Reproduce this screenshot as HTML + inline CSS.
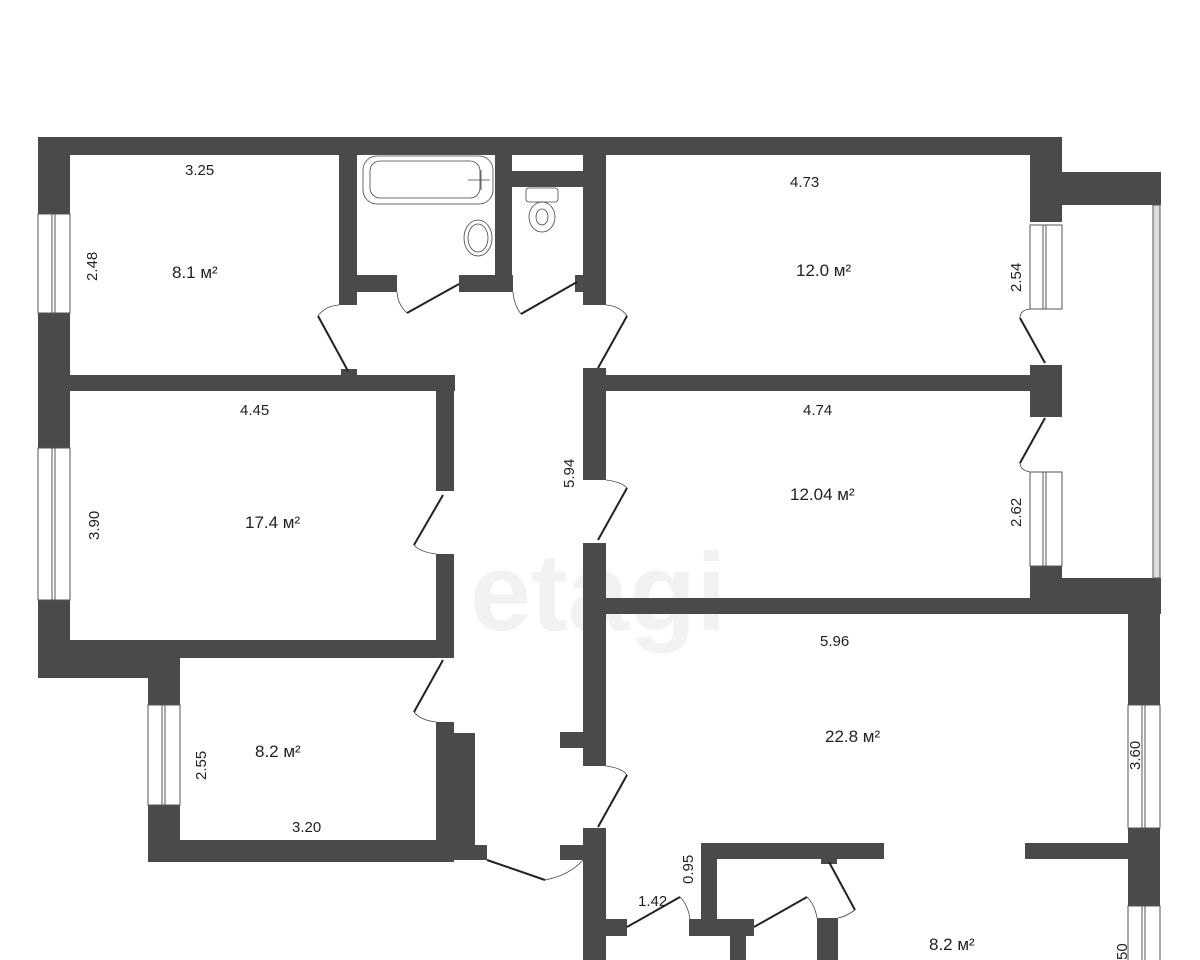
<!DOCTYPE html>
<html><head><meta charset="utf-8"><style>
html,body{margin:0;padding:0;background:#fff;}
svg{display:block;}
text{font-family:"Liberation Sans Narrow","Liberation Sans",sans-serif;fill:#222;}
</style></head><body>
<svg width="1200" height="960" viewBox="0 0 1200 960" xmlns="http://www.w3.org/2000/svg">
<text x="470" y="630" font-size="110" fill="#f2f2f2" style="fill:#f2f2f2;font-weight:bold">etagi</text>
<g fill="#4a4a4a">
<rect x="38" y="137" width="1024" height="18"/>
<rect x="38" y="137" width="32" height="77"/>
<rect x="38" y="313" width="32" height="135"/>
<rect x="38" y="600" width="32" height="78"/>
<rect x="38" y="640" width="112" height="38"/>
<rect x="339" y="137" width="18" height="168"/>
<rect x="357" y="275" width="40" height="17"/>
<rect x="459" y="275" width="54" height="17"/>
<rect x="495" y="137" width="17" height="155"/>
<rect x="512" y="171" width="72" height="16"/>
<rect x="575" y="275" width="10" height="17"/>
<rect x="583" y="137" width="23" height="168"/>
<rect x="583" y="368" width="23" height="112"/>
<rect x="583" y="543" width="23" height="223"/>
<rect x="560" y="732" width="23" height="16"/>
<rect x="583" y="828" width="23" height="132"/>
<rect x="560" y="845" width="23" height="15"/>
<rect x="70" y="375" width="385" height="16"/>
<rect x="341" y="369" width="16" height="8"/>
<rect x="436" y="375" width="18" height="116"/>
<rect x="436" y="554" width="18" height="104"/>
<rect x="70" y="640" width="384" height="18"/>
<rect x="148" y="640" width="32" height="65"/>
<rect x="148" y="805" width="32" height="57"/>
<rect x="148" y="840" width="297" height="22"/>
<rect x="436" y="722" width="18" height="140"/>
<rect x="454" y="733" width="21" height="127"/>
<rect x="470" y="845" width="17" height="15"/>
<rect x="606" y="375" width="424" height="16"/>
<rect x="1030" y="137" width="32" height="85"/>
<rect x="1030" y="365" width="32" height="52"/>
<rect x="1030" y="566" width="32" height="44"/>
<rect x="1062" y="172" width="99" height="33"/>
<rect x="1062" y="578" width="99" height="32"/>
<rect x="606" y="598" width="555" height="16"/>
<rect x="1128" y="598" width="32" height="107"/>
<rect x="1128" y="828" width="32" height="78"/>
<rect x="701" y="843" width="183" height="16"/>
<rect x="1025" y="843" width="105" height="16"/>
<rect x="701" y="843" width="16" height="80"/>
<rect x="821" y="859" width="16" height="5"/>
<rect x="606" y="919" width="21" height="17"/>
<rect x="689" y="919" width="65" height="17"/>
<rect x="730" y="936" width="16" height="24"/>
<rect x="817" y="918" width="21" height="42"/>
</g>
<g fill="#fff" stroke="#555" stroke-width="1">
<rect x="38" y="214" width="32" height="99"/><line x1="52" y1="214" x2="52" y2="313"/><line x1="55" y1="214" x2="55" y2="313"/>
<rect x="38" y="448" width="32" height="152"/><line x1="52" y1="448" x2="52" y2="600"/><line x1="55" y1="448" x2="55" y2="600"/>
<rect x="148" y="705" width="32" height="100"/><line x1="162" y1="705" x2="162" y2="805"/><line x1="165" y1="705" x2="165" y2="805"/>
<rect x="1030" y="225" width="32" height="84"/><line x1="1043" y1="225" x2="1043" y2="309"/><line x1="1046" y1="225" x2="1046" y2="309"/>
<rect x="1030" y="472" width="32" height="94"/><line x1="1043" y1="472" x2="1043" y2="566"/><line x1="1046" y1="472" x2="1046" y2="566"/>
<rect x="1128" y="705" width="32" height="123"/><line x1="1142" y1="705" x2="1142" y2="828"/><line x1="1145" y1="705" x2="1145" y2="828"/>
<rect x="1128" y="906" width="32" height="60"/><line x1="1142" y1="906" x2="1142" y2="960"/><line x1="1145" y1="906" x2="1145" y2="960"/>
<rect x="1153" y="205" width="7" height="373" fill="#ddd"/>
</g>
<g stroke="#222" stroke-width="2" fill="none">
<line x1="407" y1="313" x2="459" y2="284"/>
<line x1="521" y1="314" x2="577" y2="282"/>
<line x1="318" y1="316" x2="348" y2="371"/>
<line x1="627" y1="316" x2="598" y2="368"/>
<line x1="1020" y1="318" x2="1045" y2="363"/>
<line x1="1045" y1="418" x2="1020" y2="463"/>
<line x1="443" y1="495" x2="414" y2="545"/>
<line x1="627" y1="488" x2="598" y2="540"/>
<line x1="443" y1="660" x2="414" y2="712"/>
<line x1="627" y1="775" x2="598" y2="827"/>
<line x1="487" y1="860" x2="545" y2="880"/>
<line x1="627" y1="927" x2="680" y2="897"/>
<line x1="754" y1="927" x2="807" y2="897"/>
<line x1="829" y1="862" x2="855" y2="910"/>
</g>
<g stroke="#444" stroke-width="0.8" fill="none">
<path d="M397 292 Q398 305 407 313"/>
<path d="M513 292 Q514 305 521 314"/>
<path d="M339 305 Q325 306 318 316"/>
<path d="M606 305 Q620 306 627 316"/>
<path d="M1030 309 Q1020 310 1020 318"/>
<path d="M1030 472 Q1020 470 1020 463"/>
<path d="M436 554 Q420 552 414 545"/>
<path d="M606 480 Q622 482 627 488"/>
<path d="M436 722 Q420 720 414 712"/>
<path d="M606 766 Q622 768 627 775"/>
<path d="M583 860 Q570 875 545 880"/>
<path d="M680 897 Q688 905 690 919"/>
<path d="M807 897 Q815 905 817 918"/>
<path d="M855 910 Q845 917 838 918"/>
<rect x="363" y="156" width="130" height="48" rx="14"/>
<rect x="370" y="161" width="110" height="37" rx="10"/>
<line x1="468" y1="180" x2="490" y2="180"/><line x1="481" y1="170" x2="481" y2="190"/>
<ellipse cx="478" cy="238" rx="14" ry="18"/><ellipse cx="478" cy="238" rx="10" ry="14"/>
<rect x="526" y="188" width="32" height="14" rx="3"/>
<ellipse cx="542" cy="217" rx="13" ry="15"/><ellipse cx="542" cy="217" rx="6" ry="8"/>
</g>
<g font-size="15">
<text x="185" y="175">3.25</text>
<text x="172" y="278" font-size="17">8.1 м²</text>
<text x="240" y="415">4.45</text>
<text x="245" y="528" font-size="17">17.4 м²</text>
<text x="790" y="187">4.73</text>
<text x="796" y="276" font-size="17">12.0 м²</text>
<text x="803" y="415">4.74</text>
<text x="790" y="500" font-size="17">12.04 м²</text>
<text x="820" y="646">5.96</text>
<text x="825" y="742" font-size="17">22.8 м²</text>
<text x="255" y="757" font-size="17">8.2 м²</text>
<text x="292" y="832">3.20</text>
<text x="929" y="950" font-size="17">8.2 м²</text>
<text x="638" y="906">1.42</text>
<text transform="translate(97,281) rotate(-90)">2.48</text>
<text transform="translate(99,540) rotate(-90)">3.90</text>
<text transform="translate(206,780) rotate(-90)">2.55</text>
<text transform="translate(574,488) rotate(-90)">5.94</text>
<text transform="translate(1021,292) rotate(-90)">2.54</text>
<text transform="translate(1021,527) rotate(-90)">2.62</text>
<text transform="translate(1140,770) rotate(-90)">3.60</text>
<text transform="translate(693,884) rotate(-90)">0.95</text>
<text transform="translate(1127,960) rotate(-90)">50</text>
</g>
</svg>
</body></html>
